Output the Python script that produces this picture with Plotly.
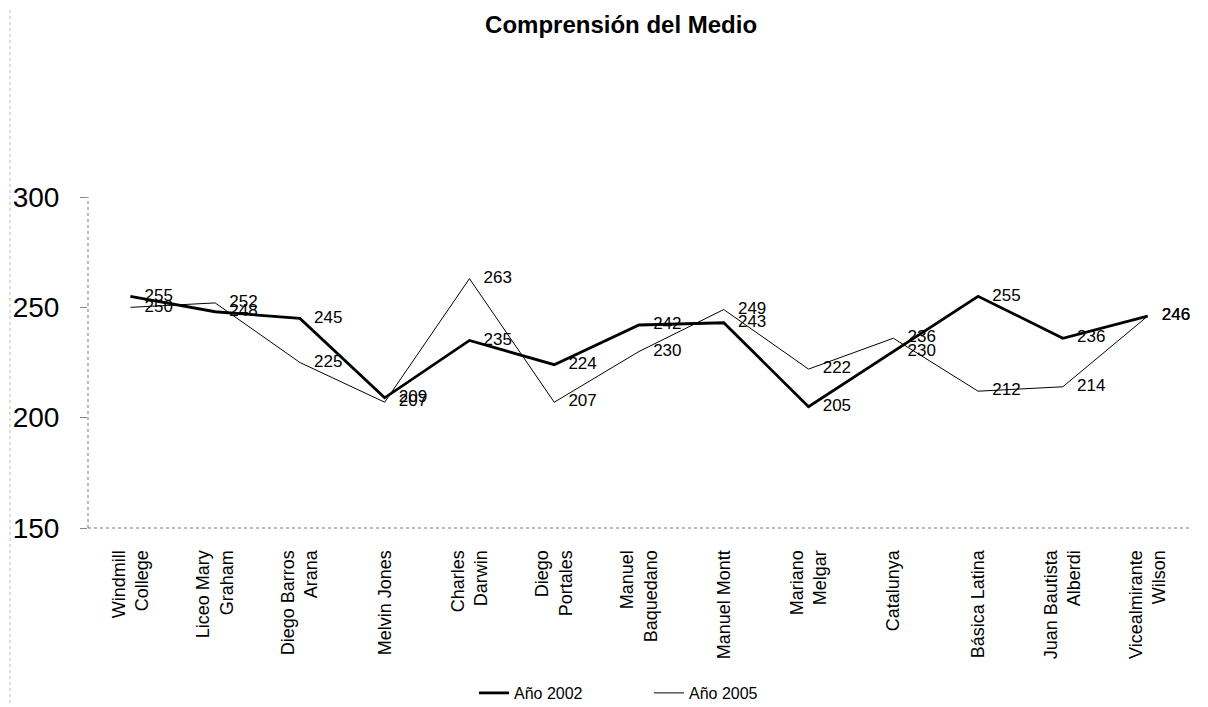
import plotly.graph_objects as go

categories = ["Windmill<br>College", "Liceo Mary<br>Graham", "Diego Barros<br>Arana", "Melvin Jones",
              "Charles<br>Darwin", "Diego<br>Portales", "Manuel<br>Baquedano", "Manuel Montt",
              "Mariano<br>Melgar", "Catalunya", "Básica Latina", "Juan Bautista<br>Alberdi",
              "Vicealmirante<br>Wilson"]
y2002 = [255, 248, 245, 209, 235, 224, 242, 243, 205, 230, 255, 236, 246]
y2005 = [250, 252, 225, 207, 263, 207, 230, 249, 222, 236, 212, 214, 246]
yticks = [150, 200, 250, 300]

FONT = "Arial, Liberation Sans, sans-serif"
L, R, T, B = 80, 26, 189, 187
W, H = 1208, 707
PW = W - L - R
PH = H - T - B

x = list(range(len(categories)))
fig = go.Figure()
fig.add_trace(go.Scatter(x=x, y=y2002, mode="lines+text", name="Año 2002",
                         line=dict(color="black", width=2.8),
                         text=["   " + str(v) for v in y2002], textposition="middle right",
                         textfont=dict(family=FONT, size=17, color="black"), cliponaxis=False))
fig.add_trace(go.Scatter(x=x, y=y2005, mode="lines+text", name="Año 2005",
                         line=dict(color="black", width=1),
                         text=["   " + str(v) for v in y2005], textposition="middle right",
                         textfont=dict(family=FONT, size=17, color="black"), cliponaxis=False))

def px_x(p):
    return (p - 8 - L) / PW

def px_y(p):
    return 1 - (p - 8 - T) / PH

shapes = [
    dict(type="line", xref="paper", yref="paper", x0=0, x1=0, y0=0, y1=1,
         line=dict(color="#777", width=1, dash="dot")),
    dict(type="line", xref="paper", yref="paper", x0=0, x1=1, y0=0, y1=0,
         line=dict(color="#777", width=1, dash="dot")),
    dict(type="line", xref="paper", yref="paper", x0=px_x(10), x1=px_x(1206), y0=px_y(4), y1=px_y(4),
         line=dict(color="#bbb", width=1, dash="dash")),
    dict(type="line", xref="paper", yref="paper", x0=px_x(10), x1=px_x(10), y0=px_y(4), y1=px_y(705),
         line=dict(color="#bbb", width=1, dash="dot")),
]

fig.update_layout(
    width=W, height=H,
    paper_bgcolor="white", plot_bgcolor="white",
    margin=dict(l=L, r=R, t=T, b=B, autoexpand=False),
    title=dict(text="<b>Comprensión del Medio</b>", x=0.5075, y=0.976, xanchor="center",
               yanchor="middle", font=dict(family=FONT, size=24, color="black")),
    font=dict(family=FONT, color="black"),
    showlegend=True,
    legend=dict(orientation="h", x=px_x(474), xanchor="left", y=px_y(693), yanchor="middle",
                font=dict(family=FONT, size=16), entrywidth=130, entrywidthmode="pixels",
                bgcolor="rgba(0,0,0,0)"),
    shapes=shapes,
    xaxis=dict(range=[-0.5, 12.5], tickmode="array", tickvals=x, ticktext=categories,
               tickangle=-90, tickfont=dict(family=FONT, size=18), showgrid=False, zeroline=False,
               showline=False, ticks="outside", ticklen=8, tickcolor="rgba(0,0,0,0)",
               ticklabelstandoff=6, automargin=False),
    yaxis=dict(range=[150, 300], tickmode="array", tickvals=yticks, ticktext=[str(v) for v in yticks],
               tickfont=dict(family=FONT, size=28), showgrid=False, zeroline=False,
               showline=False, ticks="outside", ticklen=7, tickcolor="#888",
               ticklabelstandoff=15, automargin=False),
)
fig.write_html("out.html")
